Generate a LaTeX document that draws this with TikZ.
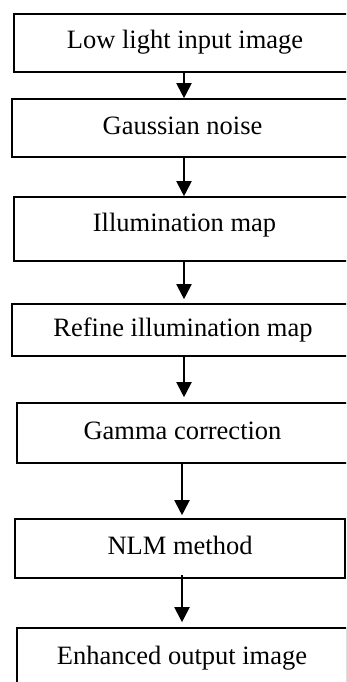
\documentclass[tikz,border=0pt]{standalone}
\usepackage{fontspec}
\setmainfont{Liberation Serif}
\usetikzlibrary{arrows.meta, positioning}
\tikzset{
  every picture/.style={line width=1.6pt},
  box/.style={draw=black, rectangle, align=center, inner sep=0pt, minimum width=#1, font=\fontsize{26.5}{30}\selectfont, text height=18pt, text depth=6pt},
  box/.default=341pt,
  arrow/.style={-{Triangle[length=15pt, width=15pt]}, draw=black, line width=2pt},
}

\begin{document}
\begin{tikzpicture}[x=1pt, y=-1pt]
  \useasboundingbox (0,0) rectangle (346,682);
  \clip (0,0) rectangle (346,682);
  % boxes sit on their text; right edges run off the page
  \node[box=342pt, minimum height=58pt] (input) at (185,43) {Low light input image};
  \node[box=341pt, minimum height=58pt] (noise) at (182.5,128) {Gaussian noise};
  \node[box=341pt, minimum height=64pt, text depth=13pt] (illum) at (184.5,229) {Illumination map};
  \node[box=342pt, minimum height=52pt] (refine) at (183,330) {Refine illumination map};
  \node[box=331pt, minimum height=60pt] (gamma) at (182.5,433) {Gamma correction};
  \node[box=330pt, minimum height=59pt] (nlm) at (180,548.5) {NLM method};
  \node[box=330pt, minimum height=60pt] (output) at (182,658) {Enhanced output image};
  \coordinate (a1) at (184,0);
  \coordinate (a2) at (182,0);
  \foreach \from/\to/\ax/\pre/\gap in {input/noise/a1/0pt/0pt, noise/illum/a1/0pt/0pt, illum/refine/a1/0pt/4pt,
      refine/gamma/a1/0pt/5pt, gamma/nlm/a2/0pt/3pt, nlm/output/a2/-4pt/5pt}
    \draw[arrow, shorten <=\pre, shorten >=\gap] (\from.south -| \ax) -- (\to.north -| \ax);
\end{tikzpicture}
\end{document}
